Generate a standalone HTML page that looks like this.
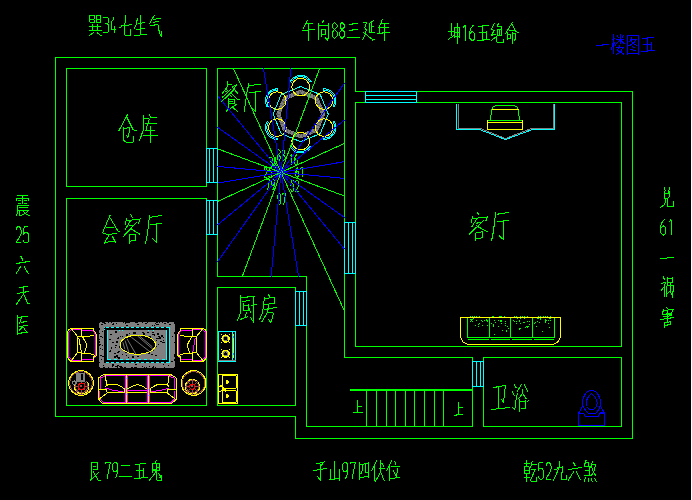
<!DOCTYPE html>
<html><head><meta charset="utf-8"><title>floor plan</title>
<style>
html,body{margin:0;padding:0;background:#000;overflow:hidden;font-family:"Liberation Sans",sans-serif}
svg{display:block}
</style></head><body>
<svg width="692" height="500" viewBox="0 0 692 500" shape-rendering="crispEdges" stroke-linecap="square" stroke-linejoin="miter">
<rect x="0" y="0" width="692" height="500" fill="#000"/>
<path d="M55.50 57.50 L355.50 57.50 L355.50 91.50 L632.50 91.50 L632.50 438.50 L295.50 438.50 L295.50 416.50 L55.50 416.50 Z" stroke="#00ff00" stroke-width="1" fill="none" />
<path d="M66.50 68.50 L206.50 68.50 L206.50 186.50 L66.50 186.50 Z" stroke="#00ff00" stroke-width="1" fill="none" />
<path d="M66.50 198.50 L206.50 198.50 L206.50 405.50 L66.50 405.50 Z" stroke="#00ff00" stroke-width="1" fill="none" />
<path d="M217.50 276.50 L217.50 68.50 L344.50 68.50 L344.50 357.50 L472.50 357.50 L472.50 426.50 L306.50 426.50 L306.50 276.50 L217.50 276.50" stroke="#00ff00" stroke-width="1" fill="none" />
<path d="M217.50 287.50 L295.50 287.50 L295.50 405.50 L217.50 405.50 Z" stroke="#00ff00" stroke-width="1" fill="none" />
<path d="M355.50 102.50 L621.50 102.50 L621.50 346.50 L355.50 346.50 Z" stroke="#00ff00" stroke-width="1" fill="none" />
<path d="M483.50 357.50 L621.50 357.50 L621.50 426.50 L483.50 426.50 Z" stroke="#00ff00" stroke-width="1" fill="none" />
<path d="M206.50 148.50 L217.50 148.50 L217.50 182.50 L206.50 182.50 Z" stroke="#00ffff" stroke-width="1" fill="none" />
<path d="M209.50 148.50 L209.50 182.50" stroke="#00ffff" stroke-width="1" fill="none" />
<path d="M213.50 148.50 L213.50 182.50" stroke="#00ffff" stroke-width="1" fill="none" />
<path d="M206.50 200.50 L217.50 200.50 L217.50 234.50 L206.50 234.50 Z" stroke="#00ffff" stroke-width="1" fill="none" />
<path d="M209.50 200.50 L209.50 234.50" stroke="#00ffff" stroke-width="1" fill="none" />
<path d="M213.50 200.50 L213.50 234.50" stroke="#00ffff" stroke-width="1" fill="none" />
<path d="M344.50 222.50 L355.50 222.50 L355.50 273.50 L344.50 273.50 Z" stroke="#00ffff" stroke-width="1" fill="none" />
<path d="M348.50 222.50 L348.50 273.50" stroke="#00ffff" stroke-width="1" fill="none" />
<path d="M352.50 222.50 L352.50 273.50" stroke="#00ffff" stroke-width="1" fill="none" />
<path d="M295.50 291.50 L306.50 291.50 L306.50 325.50 L295.50 325.50 Z" stroke="#00ffff" stroke-width="1" fill="none" />
<path d="M299.50 291.50 L299.50 325.50" stroke="#00ffff" stroke-width="1" fill="none" />
<path d="M303.50 291.50 L303.50 325.50" stroke="#00ffff" stroke-width="1" fill="none" />
<path d="M472.50 361.50 L483.50 361.50 L483.50 386.50 L472.50 386.50 Z" stroke="#00ffff" stroke-width="1" fill="none" />
<path d="M476.50 361.50 L476.50 386.50" stroke="#00ffff" stroke-width="1" fill="none" />
<path d="M480.50 361.50 L480.50 386.50" stroke="#00ffff" stroke-width="1" fill="none" />
<path d="M365.50 91.50 L416.50 91.50 L416.50 102.50 L365.50 102.50 Z" stroke="#00ffff" stroke-width="1" fill="none" />
<path d="M365.50 95.50 L416.50 95.50" stroke="#00ffff" stroke-width="1" fill="none" />
<path d="M365.50 99.50 L416.50 99.50" stroke="#00ffff" stroke-width="1" fill="none" />
<rect x="350" y="389" width="123" height="2" fill="#00ff00"/>
<path d="M366.50 390.50 L366.50 426.50" stroke="#00ff00" stroke-width="1" fill="none" />
<path d="M376.50 390.50 L376.50 426.50" stroke="#00ff00" stroke-width="1" fill="none" />
<path d="M386.50 390.50 L386.50 426.50" stroke="#00ff00" stroke-width="1" fill="none" />
<path d="M395.50 390.50 L395.50 426.50" stroke="#00ff00" stroke-width="1" fill="none" />
<path d="M405.50 390.50 L405.50 426.50" stroke="#00ff00" stroke-width="1" fill="none" />
<path d="M414.50 390.50 L414.50 426.50" stroke="#00ff00" stroke-width="1" fill="none" />
<path d="M424.50 390.50 L424.50 426.50" stroke="#00ff00" stroke-width="1" fill="none" />
<path d="M434.50 390.50 L434.50 426.50" stroke="#00ff00" stroke-width="1" fill="none" />
<path d="M443.50 390.50 L443.50 426.50" stroke="#00ff00" stroke-width="1" fill="none" />
<path d="M357.50 400.50 L357.50 412.50" stroke="#00ff00" stroke-width="1" fill="none" />
<path d="M357.50 406.50 L361.50 406.50" stroke="#00ff00" stroke-width="1" fill="none" />
<path d="M353.50 412.50 L362.50 412.50" stroke="#00ff00" stroke-width="1" fill="none" />
<path d="M458.50 402.50 L458.50 414.50" stroke="#00ff00" stroke-width="1" fill="none" />
<path d="M458.50 407.50 L462.50 407.50" stroke="#00ff00" stroke-width="1" fill="none" />
<path d="M454.50 415.50 L458.50 414.50 L462.50 414.50" stroke="#00ff00" stroke-width="1" fill="none" />
<rect x="691" y="0" width="1" height="500" fill="#ffffff"/>
<path d="M300.70 91.70 L316.54 98.26 L323.10 114.10 L316.54 129.94 L300.70 136.50 L284.86 129.94 L278.30 114.10 L284.86 98.26 Z" stroke="#808080" stroke-width="4" fill="none" stroke-linejoin="round"/>
<path d="M300.70 91.70 L316.54 98.26 L323.10 114.10 L316.54 129.94 L300.70 136.50 L284.86 129.94 L278.30 114.10 L284.86 98.26 Z" stroke="#585858" stroke-width="4" fill="none" stroke-dasharray="1 2.3" stroke-linecap="butt"/>
<path d="M300.70 86.50 L320.22 94.58 L328.30 114.10 L320.22 133.62 L300.70 141.70 L281.18 133.62 L273.10 114.10 L281.18 94.58 Z" stroke="#00ffff" stroke-width="1" fill="none" stroke-linejoin="bevel"/>
<circle cx="300.70" cy="87.10" r="8.80" stroke="#ffff00" stroke-width="1" fill="none" />
<path d="M290.69 80.85 L292.15 78.96 L293.97 77.41 L296.05 76.25 L298.33 75.54 L300.70 75.30 L303.07 75.54 L305.35 76.25 L307.43 77.41 L309.25 78.96 L310.71 80.85" stroke="#00ffff" stroke-width="1" fill="none" />
<path d="M292.00 81.23 L293.30 79.65 L294.89 78.35 L296.70 77.39 L298.66 76.80 L300.70 76.60 L302.74 76.80 L304.70 77.39 L306.51 78.35 L308.10 79.65 L309.40 81.23" stroke="#00ffff" stroke-width="1" fill="none" />
<path d="M290.69 80.85 L290.28 81.56 L291.43 82.17" stroke="#00ffff" stroke-width="1" fill="none" />
<path d="M310.71 80.85 L311.12 81.56 L309.97 82.17" stroke="#00ffff" stroke-width="1" fill="none" />
<circle cx="324.08" cy="100.60" r="8.80" stroke="#ffff00" stroke-width="1" fill="none" />
<path d="M324.49 88.81 L326.86 89.13 L329.11 89.92 L331.15 91.15 L332.91 92.77 L334.30 94.70 L335.28 96.88 L335.80 99.20 L335.84 101.59 L335.40 103.93 L334.50 106.14" stroke="#00ffff" stroke-width="1" fill="none" />
<path d="M324.82 90.13 L326.84 90.47 L328.75 91.20 L330.49 92.28 L331.98 93.68 L333.18 95.35 L334.02 97.22 L334.49 99.21 L334.56 101.26 L334.23 103.28 L333.52 105.20" stroke="#00ffff" stroke-width="1" fill="none" />
<path d="M324.49 88.81 L323.67 88.81 L323.72 90.11" stroke="#00ffff" stroke-width="1" fill="none" />
<path d="M334.50 106.14 L334.09 106.85 L332.99 106.16" stroke="#00ffff" stroke-width="1" fill="none" />
<circle cx="324.08" cy="127.60" r="8.80" stroke="#ffff00" stroke-width="1" fill="none" />
<path d="M334.50 122.06 L335.40 124.27 L335.84 126.61 L335.80 129.00 L335.28 131.32 L334.30 133.50 L332.91 135.43 L331.15 137.05 L329.11 138.28 L326.86 139.07 L324.49 139.39" stroke="#00ffff" stroke-width="1" fill="none" />
<path d="M333.52 123.00 L334.23 124.92 L334.56 126.94 L334.49 128.99 L334.02 130.98 L333.18 132.85 L331.98 134.52 L330.49 135.92 L328.75 137.00 L326.84 137.73 L324.82 138.07" stroke="#00ffff" stroke-width="1" fill="none" />
<path d="M334.50 122.06 L334.09 121.35 L332.99 122.04" stroke="#00ffff" stroke-width="1" fill="none" />
<path d="M324.49 139.39 L323.67 139.39 L323.72 138.09" stroke="#00ffff" stroke-width="1" fill="none" />
<circle cx="300.70" cy="141.10" r="8.80" stroke="#ffff00" stroke-width="1" fill="none" />
<path d="M310.71 147.35 L309.25 149.24 L307.43 150.79 L305.35 151.95 L303.07 152.66 L300.70 152.90 L298.33 152.66 L296.05 151.95 L293.97 150.79 L292.15 149.24 L290.69 147.35" stroke="#00ffff" stroke-width="1" fill="none" />
<path d="M309.40 146.97 L308.10 148.55 L306.51 149.85 L304.70 150.81 L302.74 151.40 L300.70 151.60 L298.66 151.40 L296.70 150.81 L294.89 149.85 L293.30 148.55 L292.00 146.97" stroke="#00ffff" stroke-width="1" fill="none" />
<path d="M310.71 147.35 L311.12 146.64 L309.97 146.03" stroke="#00ffff" stroke-width="1" fill="none" />
<path d="M290.69 147.35 L290.28 146.64 L291.43 146.03" stroke="#00ffff" stroke-width="1" fill="none" />
<circle cx="277.32" cy="127.60" r="8.80" stroke="#ffff00" stroke-width="1" fill="none" />
<path d="M276.91 139.39 L274.54 139.07 L272.29 138.28 L270.25 137.05 L268.49 135.43 L267.10 133.50 L266.12 131.32 L265.60 129.00 L265.56 126.61 L266.00 124.27 L266.90 122.06" stroke="#00ffff" stroke-width="1" fill="none" />
<path d="M276.58 138.07 L274.56 137.73 L272.65 137.00 L270.91 135.92 L269.42 134.52 L268.22 132.85 L267.38 130.98 L266.91 128.99 L266.84 126.94 L267.17 124.92 L267.88 123.00" stroke="#00ffff" stroke-width="1" fill="none" />
<path d="M276.91 139.39 L277.73 139.39 L277.68 138.09" stroke="#00ffff" stroke-width="1" fill="none" />
<path d="M266.90 122.06 L267.31 121.35 L268.41 122.04" stroke="#00ffff" stroke-width="1" fill="none" />
<circle cx="277.32" cy="100.60" r="8.80" stroke="#ffff00" stroke-width="1" fill="none" />
<path d="M266.90 106.14 L266.00 103.93 L265.56 101.59 L265.60 99.20 L266.12 96.88 L267.10 94.70 L268.49 92.77 L270.25 91.15 L272.29 89.92 L274.54 89.13 L276.91 88.81" stroke="#00ffff" stroke-width="1" fill="none" />
<path d="M267.88 105.20 L267.17 103.28 L266.84 101.26 L266.91 99.21 L267.38 97.22 L268.22 95.35 L269.42 93.68 L270.91 92.28 L272.65 91.20 L274.56 90.47 L276.58 90.13" stroke="#00ffff" stroke-width="1" fill="none" />
<path d="M266.90 106.14 L267.31 106.85 L268.41 106.16" stroke="#00ffff" stroke-width="1" fill="none" />
<path d="M276.91 88.81 L277.73 88.81 L277.68 90.11" stroke="#00ffff" stroke-width="1" fill="none" />
<path d="M458.50 104.50 L458.50 128.50 L480.50 128.50 L505.50 138.50 L531.50 128.50 L553.50 128.50 L553.50 104.50" stroke="#808080" stroke-width="1" fill="none" />
<path d="M456.50 104.50 L456.50 129.50 L479.50 129.50 L505.50 139.50 L532.50 129.50 L554.50 129.50 L554.50 104.50" stroke="#00ffff" stroke-width="1" fill="none" />
<path d="M487.50 120.50 L522.50 120.50 L522.50 129.50 L487.50 129.50 Z" stroke="#ffff00" stroke-width="1" fill="none" />
<path d="M487.50 122.50 L522.50 122.50" stroke="#ffff00" stroke-width="1" fill="none" />
<path d="M490.50 120.50 L491.50 110.50 L492.50 107.50 L495.50 105.50 L514.50 105.50 L517.50 107.50 L518.50 110.50 L519.50 120.50" stroke="#00ff00" stroke-width="1" fill="none" />
<path d="M488.50 120.50 L521.50 120.50" stroke="#00ff00" stroke-width="1" fill="none" />
<path d="M492.50 109.50 L518.50 109.50" stroke="#ffff00" stroke-width="1" fill="none" />
<path d="M467.50 317.50 L554.50 317.50" stroke="#00ff00" stroke-width="1" fill="none" />
<path d="M467.50 317.50 L467.50 337.50" stroke="#00ff00" stroke-width="1" fill="none" />
<path d="M489.50 317.50 L489.50 337.50" stroke="#00ff00" stroke-width="1" fill="none" />
<path d="M510.50 317.50 L510.50 337.50" stroke="#00ff00" stroke-width="1" fill="none" />
<path d="M532.50 317.50 L532.50 337.50" stroke="#00ff00" stroke-width="1" fill="none" />
<path d="M554.50 317.50 L554.50 337.50" stroke="#00ff00" stroke-width="1" fill="none" />
<path d="M467.50 337.50 L554.50 337.50" stroke="#00ff00" stroke-width="1" fill="none" />
<path d="M468.50 339.50 L488.50 339.50" stroke="#00ff00" stroke-width="1" fill="none" />
<path d="M491.50 339.50 L509.50 339.50" stroke="#00ff00" stroke-width="1" fill="none" />
<path d="M512.50 339.50 L531.50 339.50" stroke="#00ff00" stroke-width="1" fill="none" />
<path d="M534.50 339.50 L553.50 339.50" stroke="#00ff00" stroke-width="1" fill="none" />
<rect x="479" y="323" width="1" height="1" fill="#00ff00"/>
<rect x="470" y="319" width="1" height="1" fill="#00ff00"/>
<rect x="471" y="319" width="1" height="1" fill="#00ff00"/>
<rect x="487" y="320" width="1" height="1" fill="#00ff00"/>
<rect x="470" y="321" width="1" height="1" fill="#00ff00"/>
<rect x="471" y="320" width="1" height="1" fill="#00ff00"/>
<rect x="482" y="321" width="1" height="1" fill="#00ff00"/>
<rect x="486" y="320" width="1" height="1" fill="#00ff00"/>
<rect x="482" y="325" width="1" height="1" fill="#00ff00"/>
<rect x="476" y="320" width="1" height="1" fill="#00ff00"/>
<rect x="487" y="325" width="1" height="1" fill="#00ff00"/>
<rect x="481" y="320" width="1" height="1" fill="#00ff00"/>
<rect x="470" y="319" width="1" height="1" fill="#00ff00"/>
<rect x="473" y="318" width="1" height="1" fill="#00ff00"/>
<rect x="478" y="324" width="1" height="1" fill="#00ff00"/>
<rect x="487" y="321" width="1" height="1" fill="#00ff00"/>
<rect x="478" y="326" width="1" height="1" fill="#00ff00"/>
<rect x="472" y="321" width="1" height="1" fill="#00ff00"/>
<rect x="487" y="321" width="1" height="1" fill="#00ff00"/>
<rect x="472" y="319" width="1" height="1" fill="#00ff00"/>
<rect x="486" y="319" width="1" height="1" fill="#00ff00"/>
<rect x="475" y="325" width="1" height="1" fill="#00ff00"/>
<rect x="484" y="320" width="1" height="1" fill="#00ff00"/>
<rect x="479" y="323" width="1" height="1" fill="#00ff00"/>
<rect x="505" y="323" width="1" height="1" fill="#00ff00"/>
<rect x="500" y="321" width="1" height="1" fill="#00ff00"/>
<rect x="498" y="320" width="1" height="1" fill="#00ff00"/>
<rect x="498" y="326" width="1" height="1" fill="#00ff00"/>
<rect x="493" y="324" width="1" height="1" fill="#00ff00"/>
<rect x="501" y="321" width="1" height="1" fill="#00ff00"/>
<rect x="505" y="321" width="1" height="1" fill="#00ff00"/>
<rect x="494" y="334" width="1" height="1" fill="#00ff00"/>
<rect x="507" y="326" width="1" height="1" fill="#00ff00"/>
<rect x="495" y="322" width="1" height="1" fill="#00ff00"/>
<rect x="506" y="331" width="1" height="1" fill="#00ff00"/>
<rect x="493" y="325" width="1" height="1" fill="#00ff00"/>
<rect x="508" y="328" width="1" height="1" fill="#00ff00"/>
<rect x="501" y="323" width="1" height="1" fill="#00ff00"/>
<rect x="501" y="320" width="1" height="1" fill="#00ff00"/>
<rect x="505" y="325" width="1" height="1" fill="#00ff00"/>
<rect x="493" y="325" width="1" height="1" fill="#00ff00"/>
<rect x="506" y="330" width="1" height="1" fill="#00ff00"/>
<rect x="493" y="326" width="1" height="1" fill="#00ff00"/>
<rect x="505" y="321" width="1" height="1" fill="#00ff00"/>
<rect x="500" y="320" width="1" height="1" fill="#00ff00"/>
<rect x="502" y="330" width="1" height="1" fill="#00ff00"/>
<rect x="491" y="323" width="1" height="1" fill="#00ff00"/>
<rect x="494" y="320" width="1" height="1" fill="#00ff00"/>
<rect x="527" y="327" width="1" height="1" fill="#00ff00"/>
<rect x="516" y="321" width="1" height="1" fill="#00ff00"/>
<rect x="519" y="328" width="1" height="1" fill="#00ff00"/>
<rect x="527" y="326" width="1" height="1" fill="#00ff00"/>
<rect x="514" y="321" width="1" height="1" fill="#00ff00"/>
<rect x="520" y="323" width="1" height="1" fill="#00ff00"/>
<rect x="516" y="323" width="1" height="1" fill="#00ff00"/>
<rect x="520" y="328" width="1" height="1" fill="#00ff00"/>
<rect x="525" y="327" width="1" height="1" fill="#00ff00"/>
<rect x="524" y="318" width="1" height="1" fill="#00ff00"/>
<rect x="519" y="320" width="1" height="1" fill="#00ff00"/>
<rect x="519" y="321" width="1" height="1" fill="#00ff00"/>
<rect x="519" y="329" width="1" height="1" fill="#00ff00"/>
<rect x="517" y="318" width="1" height="1" fill="#00ff00"/>
<rect x="520" y="318" width="1" height="1" fill="#00ff00"/>
<rect x="529" y="321" width="1" height="1" fill="#00ff00"/>
<rect x="523" y="322" width="1" height="1" fill="#00ff00"/>
<rect x="516" y="321" width="1" height="1" fill="#00ff00"/>
<rect x="528" y="326" width="1" height="1" fill="#00ff00"/>
<rect x="513" y="320" width="1" height="1" fill="#00ff00"/>
<rect x="526" y="326" width="1" height="1" fill="#00ff00"/>
<rect x="529" y="324" width="1" height="1" fill="#00ff00"/>
<rect x="524" y="322" width="1" height="1" fill="#00ff00"/>
<rect x="527" y="321" width="1" height="1" fill="#00ff00"/>
<rect x="546" y="320" width="1" height="1" fill="#00ff00"/>
<rect x="540" y="318" width="1" height="1" fill="#00ff00"/>
<rect x="548" y="320" width="1" height="1" fill="#00ff00"/>
<rect x="535" y="322" width="1" height="1" fill="#00ff00"/>
<rect x="537" y="321" width="1" height="1" fill="#00ff00"/>
<rect x="537" y="318" width="1" height="1" fill="#00ff00"/>
<rect x="545" y="319" width="1" height="1" fill="#00ff00"/>
<rect x="540" y="319" width="1" height="1" fill="#00ff00"/>
<rect x="546" y="320" width="1" height="1" fill="#00ff00"/>
<rect x="545" y="321" width="1" height="1" fill="#00ff00"/>
<rect x="545" y="320" width="1" height="1" fill="#00ff00"/>
<rect x="549" y="318" width="1" height="1" fill="#00ff00"/>
<rect x="548" y="323" width="1" height="1" fill="#00ff00"/>
<rect x="538" y="318" width="1" height="1" fill="#00ff00"/>
<rect x="537" y="318" width="1" height="1" fill="#00ff00"/>
<rect x="549" y="327" width="1" height="1" fill="#00ff00"/>
<rect x="539" y="322" width="1" height="1" fill="#00ff00"/>
<rect x="550" y="318" width="1" height="1" fill="#00ff00"/>
<rect x="545" y="322" width="1" height="1" fill="#00ff00"/>
<rect x="534" y="323" width="1" height="1" fill="#00ff00"/>
<rect x="550" y="320" width="1" height="1" fill="#00ff00"/>
<rect x="536" y="326" width="1" height="1" fill="#00ff00"/>
<rect x="542" y="331" width="1" height="1" fill="#00ff00"/>
<rect x="545" y="319" width="1" height="1" fill="#00ff00"/>
<rect x="470" y="316" width="1" height="1" fill="#00ff00"/>
<rect x="472" y="316" width="1" height="1" fill="#00ff00"/>
<rect x="474" y="316" width="1" height="1" fill="#00ff00"/>
<rect x="476" y="316" width="1" height="1" fill="#00ff00"/>
<rect x="479" y="316" width="1" height="1" fill="#00ff00"/>
<rect x="492" y="316" width="1" height="1" fill="#00ff00"/>
<rect x="493" y="316" width="1" height="1" fill="#00ff00"/>
<rect x="499" y="316" width="1" height="1" fill="#00ff00"/>
<rect x="500" y="316" width="1" height="1" fill="#00ff00"/>
<rect x="501" y="316" width="1" height="1" fill="#00ff00"/>
<rect x="504" y="316" width="1" height="1" fill="#00ff00"/>
<rect x="514" y="316" width="1" height="1" fill="#00ff00"/>
<rect x="516" y="316" width="1" height="1" fill="#00ff00"/>
<rect x="520" y="316" width="1" height="1" fill="#00ff00"/>
<rect x="522" y="316" width="1" height="1" fill="#00ff00"/>
<rect x="524" y="316" width="1" height="1" fill="#00ff00"/>
<rect x="527" y="316" width="1" height="1" fill="#00ff00"/>
<rect x="538" y="316" width="1" height="1" fill="#00ff00"/>
<rect x="540" y="316" width="1" height="1" fill="#00ff00"/>
<rect x="543" y="316" width="1" height="1" fill="#00ff00"/>
<rect x="545" y="316" width="1" height="1" fill="#00ff00"/>
<rect x="547" y="316" width="1" height="1" fill="#00ff00"/>
<rect x="550" y="316" width="1" height="1" fill="#00ff00"/>
<path d="M460.5 317.5 L560.5 317.5 L560.5 335.5 A9 9 0 0 1 551.5 344.5 L469.5 344.5 A9 9 0 0 1 460.5 335.5 Z" stroke="#ffff00" fill="none"/>
<path d="M578.50 413.50 L583.50 413.50 L585.50 416.50 L598.50 416.50 L599.50 413.50 L604.50 413.50 L604.50 425.50 L578.50 425.50 Z" stroke="#0000ff" stroke-width="1" fill="none" />
<path d="M600.50 412.50 L603.50 412.50" stroke="#0000ff" stroke-width="1" fill="none" />
<path d="M591.5 390.5 C586 390.5 582.5 397 582.5 403 C582.5 408 586 411 588.5 413.5 L595.5 413.5 C598 411 600.5 408 600.5 403 C600.5 397 597 390.5 591.5 390.5 Z" stroke="#0000ff" fill="none"/>
<path d="M591.5 393.5 C588.5 396 586.3 399.5 586.3 403 C586.3 407 588.5 409.6 591.5 409.6 C594.5 409.6 597.2 407 597.2 403 C597.2 399.5 594.5 396 591.5 393.5 Z" stroke="#0000ff" fill="none"/>
<path d="M582.80 405.50 L578.50 413.50" stroke="#0000ff" stroke-width="1" fill="none" />
<path d="M600.40 405.50 L604.50 413.50" stroke="#0000ff" stroke-width="1" fill="none" />
<rect x="99" y="322" width="76" height="46" fill="#808080"/>
<rect x="104" y="327" width="66" height="36" fill="#000"/>
<rect x="107" y="330" width="60" height="30" fill="#808080"/>
<rect x="102" y="322" width="2" height="1" fill="#000"/>
<rect x="103" y="367" width="2" height="1" fill="#000"/>
<rect x="104" y="322" width="1" height="1" fill="#000"/>
<rect x="108" y="322" width="1" height="1" fill="#000"/>
<rect x="108" y="367" width="1" height="1" fill="#000"/>
<rect x="111" y="322" width="1" height="1" fill="#000"/>
<rect x="117" y="367" width="1" height="1" fill="#000"/>
<rect x="120" y="367" width="1" height="1" fill="#000"/>
<rect x="121" y="367" width="2" height="1" fill="#000"/>
<rect x="123" y="322" width="1" height="1" fill="#000"/>
<rect x="124" y="367" width="2" height="1" fill="#000"/>
<rect x="125" y="322" width="2" height="1" fill="#000"/>
<rect x="126" y="322" width="1" height="1" fill="#000"/>
<rect x="127" y="322" width="2" height="1" fill="#000"/>
<rect x="128" y="322" width="1" height="1" fill="#000"/>
<rect x="129" y="322" width="1" height="1" fill="#000"/>
<rect x="131" y="367" width="2" height="1" fill="#000"/>
<rect x="132" y="367" width="1" height="1" fill="#000"/>
<rect x="134" y="367" width="1" height="1" fill="#000"/>
<rect x="135" y="322" width="2" height="1" fill="#000"/>
<rect x="135" y="367" width="2" height="1" fill="#000"/>
<rect x="137" y="322" width="1" height="1" fill="#000"/>
<rect x="142" y="322" width="1" height="1" fill="#000"/>
<rect x="144" y="367" width="1" height="1" fill="#000"/>
<rect x="146" y="367" width="1" height="1" fill="#000"/>
<rect x="147" y="322" width="1" height="1" fill="#000"/>
<rect x="152" y="367" width="2" height="1" fill="#000"/>
<rect x="155" y="367" width="1" height="1" fill="#000"/>
<rect x="156" y="322" width="2" height="1" fill="#000"/>
<rect x="157" y="322" width="1" height="1" fill="#000"/>
<rect x="159" y="322" width="1" height="1" fill="#000"/>
<rect x="162" y="322" width="1" height="1" fill="#000"/>
<rect x="164" y="367" width="1" height="1" fill="#000"/>
<rect x="167" y="322" width="2" height="1" fill="#000"/>
<rect x="174" y="323" width="1" height="1" fill="#000"/>
<rect x="99" y="328" width="1" height="1" fill="#000"/>
<rect x="99" y="329" width="1" height="1" fill="#000"/>
<rect x="174" y="332" width="1" height="2" fill="#000"/>
<rect x="99" y="333" width="1" height="1" fill="#000"/>
<rect x="99" y="339" width="1" height="1" fill="#000"/>
<rect x="99" y="341" width="1" height="2" fill="#000"/>
<rect x="174" y="342" width="1" height="1" fill="#000"/>
<rect x="99" y="344" width="1" height="2" fill="#000"/>
<rect x="174" y="354" width="1" height="2" fill="#000"/>
<rect x="174" y="355" width="1" height="1" fill="#000"/>
<rect x="174" y="356" width="1" height="1" fill="#000"/>
<rect x="174" y="359" width="1" height="2" fill="#000"/>
<rect x="99" y="362" width="1" height="1" fill="#000"/>
<rect x="99" y="367" width="1" height="2" fill="#000"/>
<rect x="174" y="367" width="1" height="2" fill="#000"/>
<rect x="99" y="322" width="1" height="1" fill="#000"/>
<rect x="174" y="322" width="1" height="1" fill="#000"/>
<rect x="99" y="367" width="1" height="1" fill="#000"/>
<rect x="174" y="367" width="1" height="1" fill="#000"/>
<rect x="101" y="324" width="2" height="1" fill="#000"/>
<rect x="142" y="366" width="1" height="1" fill="#000"/>
<rect x="116" y="323" width="1" height="1" fill="#000"/>
<rect x="112" y="365" width="2" height="1" fill="#000"/>
<rect x="103" y="365" width="1" height="1" fill="#000"/>
<rect x="157" y="324" width="2" height="1" fill="#000"/>
<rect x="163" y="364" width="1" height="1" fill="#000"/>
<rect x="155" y="323" width="1" height="1" fill="#000"/>
<rect x="102" y="345" width="1" height="1" fill="#000"/>
<rect x="120" y="366" width="2" height="1" fill="#000"/>
<rect x="112" y="364" width="2" height="1" fill="#000"/>
<rect x="101" y="359" width="1" height="1" fill="#000"/>
<rect x="102" y="356" width="2" height="1" fill="#000"/>
<rect x="149" y="366" width="1" height="1" fill="#000"/>
<rect x="119" y="366" width="2" height="1" fill="#000"/>
<rect x="100" y="355" width="2" height="1" fill="#000"/>
<rect x="102" y="331" width="1" height="1" fill="#000"/>
<rect x="100" y="348" width="1" height="1" fill="#000"/>
<rect x="102" y="349" width="1" height="1" fill="#000"/>
<rect x="112" y="366" width="1" height="1" fill="#000"/>
<rect x="169" y="324" width="2" height="1" fill="#000"/>
<rect x="135" y="364" width="2" height="1" fill="#000"/>
<rect x="117" y="365" width="2" height="1" fill="#000"/>
<rect x="168" y="365" width="1" height="1" fill="#000"/>
<rect x="154" y="325" width="1" height="1" fill="#000"/>
<rect x="117" y="366" width="1" height="1" fill="#000"/>
<rect x="125" y="323" width="1" height="1" fill="#000"/>
<rect x="137" y="324" width="2" height="1" fill="#000"/>
<rect x="164" y="323" width="2" height="1" fill="#000"/>
<rect x="171" y="361" width="2" height="1" fill="#000"/>
<rect x="172" y="336" width="1" height="1" fill="#000"/>
<rect x="153" y="366" width="1" height="1" fill="#000"/>
<rect x="102" y="337" width="1" height="1" fill="#000"/>
<rect x="102" y="337" width="1" height="1" fill="#000"/>
<rect x="145" y="323" width="2" height="1" fill="#000"/>
<rect x="100" y="344" width="1" height="1" fill="#000"/>
<rect x="113" y="323" width="1" height="1" fill="#000"/>
<rect x="112" y="324" width="2" height="1" fill="#000"/>
<rect x="156" y="324" width="1" height="1" fill="#000"/>
<rect x="152" y="325" width="1" height="1" fill="#000"/>
<rect x="126" y="325" width="2" height="1" fill="#000"/>
<rect x="115" y="366" width="2" height="1" fill="#000"/>
<rect x="100" y="336" width="2" height="1" fill="#000"/>
<rect x="104" y="323" width="2" height="1" fill="#000"/>
<rect x="118" y="337" width="1" height="1" fill="#000"/>
<rect x="122" y="336" width="1" height="1" fill="#000"/>
<rect x="152" y="334" width="2" height="1" fill="#000"/>
<rect x="117" y="352" width="2" height="1" fill="#000"/>
<rect x="157" y="334" width="2" height="1" fill="#000"/>
<rect x="138" y="344" width="2" height="1" fill="#000"/>
<rect x="136" y="337" width="2" height="1" fill="#000"/>
<rect x="109" y="351" width="2" height="1" fill="#000"/>
<rect x="163" y="337" width="1" height="1" fill="#000"/>
<rect x="138" y="342" width="2" height="1" fill="#000"/>
<rect x="134" y="337" width="2" height="1" fill="#000"/>
<rect x="115" y="347" width="1" height="1" fill="#000"/>
<rect x="114" y="356" width="2" height="2" fill="#000"/>
<rect x="134" y="349" width="2" height="1" fill="#000"/>
<rect x="141" y="349" width="2" height="1" fill="#000"/>
<rect x="126" y="334" width="2" height="2" fill="#000"/>
<rect x="158" y="336" width="2" height="1" fill="#000"/>
<rect x="130" y="348" width="2" height="1" fill="#000"/>
<rect x="158" y="344" width="1" height="1" fill="#000"/>
<rect x="122" y="354" width="1" height="1" fill="#000"/>
<rect x="160" y="341" width="2" height="1" fill="#000"/>
<rect x="115" y="331" width="2" height="2" fill="#000"/>
<rect x="148" y="332" width="1" height="1" fill="#000"/>
<rect x="151" y="340" width="2" height="1" fill="#000"/>
<rect x="151" y="343" width="2" height="1" fill="#000"/>
<rect x="143" y="333" width="2" height="2" fill="#000"/>
<rect x="140" y="351" width="1" height="2" fill="#000"/>
<rect x="116" y="355" width="2" height="2" fill="#000"/>
<rect x="110" y="334" width="2" height="1" fill="#000"/>
<rect x="156" y="338" width="2" height="1" fill="#000"/>
<rect x="134" y="347" width="1" height="1" fill="#000"/>
<rect x="150" y="343" width="1" height="1" fill="#000"/>
<rect x="125" y="339" width="2" height="1" fill="#000"/>
<rect x="144" y="348" width="2" height="1" fill="#000"/>
<rect x="142" y="349" width="1" height="2" fill="#000"/>
<rect x="137" y="356" width="2" height="1" fill="#000"/>
<rect x="144" y="350" width="2" height="1" fill="#000"/>
<rect x="133" y="336" width="2" height="1" fill="#000"/>
<rect x="119" y="346" width="2" height="2" fill="#000"/>
<rect x="147" y="332" width="2" height="1" fill="#000"/>
<rect x="135" y="340" width="2" height="1" fill="#000"/>
<rect x="147" y="340" width="2" height="2" fill="#000"/>
<rect x="127" y="346" width="2" height="1" fill="#000"/>
<rect x="144" y="340" width="2" height="2" fill="#000"/>
<rect x="156" y="340" width="1" height="1" fill="#000"/>
<rect x="158" y="338" width="2" height="1" fill="#000"/>
<rect x="149" y="336" width="2" height="2" fill="#000"/>
<rect x="133" y="332" width="2" height="2" fill="#000"/>
<rect x="134" y="332" width="2" height="2" fill="#000"/>
<rect x="129" y="333" width="1" height="1" fill="#000"/>
<rect x="155" y="346" width="2" height="1" fill="#000"/>
<rect x="111" y="347" width="1" height="2" fill="#000"/>
<rect x="138" y="335" width="1" height="2" fill="#000"/>
<rect x="154" y="334" width="1" height="2" fill="#000"/>
<rect x="135" y="345" width="1" height="1" fill="#000"/>
<rect x="112" y="342" width="2" height="1" fill="#000"/>
<rect x="116" y="342" width="2" height="1" fill="#000"/>
<rect x="151" y="344" width="2" height="2" fill="#000"/>
<rect x="125" y="351" width="2" height="2" fill="#000"/>
<rect x="135" y="342" width="2" height="2" fill="#000"/>
<rect x="161" y="335" width="2" height="2" fill="#000"/>
<rect x="117" y="338" width="2" height="1" fill="#000"/>
<rect x="141" y="340" width="2" height="2" fill="#000"/>
<rect x="163" y="342" width="2" height="1" fill="#000"/>
<rect x="148" y="352" width="2" height="2" fill="#000"/>
<rect x="153" y="349" width="1" height="2" fill="#000"/>
<rect x="126" y="355" width="1" height="1" fill="#000"/>
<rect x="124" y="347" width="2" height="1" fill="#000"/>
<rect x="152" y="332" width="2" height="1" fill="#000"/>
<rect x="109" y="339" width="2" height="1" fill="#000"/>
<rect x="110" y="350" width="1" height="1" fill="#000"/>
<rect x="123" y="348" width="2" height="1" fill="#000"/>
<rect x="157" y="333" width="2" height="1" fill="#000"/>
<rect x="144" y="338" width="2" height="1" fill="#000"/>
<rect x="139" y="346" width="2" height="1" fill="#000"/>
<rect x="130" y="341" width="2" height="2" fill="#000"/>
<rect x="117" y="357" width="1" height="1" fill="#000"/>
<rect x="137" y="356" width="2" height="1" fill="#000"/>
<rect x="137" y="344" width="2" height="1" fill="#000"/>
<rect x="133" y="356" width="1" height="1" fill="#000"/>
<rect x="118" y="351" width="2" height="1" fill="#000"/>
<rect x="127" y="348" width="2" height="1" fill="#000"/>
<rect x="136" y="351" width="2" height="2" fill="#000"/>
<rect x="115" y="345" width="2" height="1" fill="#000"/>
<rect x="143" y="333" width="2" height="2" fill="#000"/>
<rect x="145" y="346" width="2" height="1" fill="#000"/>
<rect x="128" y="357" width="1" height="1" fill="#000"/>
<rect x="128" y="337" width="2" height="2" fill="#000"/>
<rect x="114" y="353" width="2" height="1" fill="#000"/>
<rect x="155" y="355" width="2" height="1" fill="#000"/>
<rect x="127" y="335" width="1" height="1" fill="#000"/>
<rect x="151" y="354" width="2" height="1" fill="#000"/>
<rect x="116" y="341" width="2" height="1" fill="#000"/>
<rect x="145" y="350" width="2" height="1" fill="#000"/>
<rect x="137" y="347" width="2" height="1" fill="#000"/>
<rect x="129" y="338" width="2" height="2" fill="#000"/>
<rect x="142" y="338" width="1" height="1" fill="#000"/>
<rect x="162" y="342" width="1" height="1" fill="#000"/>
<rect x="152" y="343" width="2" height="1" fill="#000"/>
<rect x="159" y="337" width="2" height="2" fill="#000"/>
<rect x="132" y="356" width="2" height="2" fill="#000"/>
<rect x="118" y="357" width="2" height="2" fill="#000"/>
<rect x="120" y="336" width="1" height="1" fill="#000"/>
<rect x="163" y="340" width="1" height="1" fill="#000"/>
<rect x="142" y="332" width="2" height="1" fill="#000"/>
<path d="M105.50 327.50 L169.50 327.50" stroke="#00ffff" stroke-width="1" fill="none" stroke-dasharray="3 2" stroke-linecap="butt"/>
<path d="M105.50 362.50 L169.50 362.50" stroke="#00ffff" stroke-width="1" fill="none" stroke-dasharray="3 2" stroke-linecap="butt"/>
<path d="M169.50 327.50 L169.50 362.50" stroke="#00ffff" stroke-width="1" fill="none" />
<rect x="104" y="327" width="1" height="1" fill="#00ffff"/><rect x="104" y="329" width="1" height="1" fill="#00ffff"/>
<path d="M107.50 359.50 L107.50 330.50" stroke="#00ffff" stroke-width="1" fill="none" />
<path d="M166.50 330.50 L166.50 359.50" stroke="#00ffff" stroke-width="1" fill="none" />
<path d="M107.50 359.50 L166.50 359.50" stroke="#00ffff" stroke-width="1" fill="none" stroke-dasharray="3 3" stroke-linecap="butt"/>
<rect x="119" y="330" width="1" height="1" fill="#00ffff"/>
<rect x="122" y="330" width="1" height="1" fill="#00ffff"/>
<rect x="148" y="330" width="1" height="1" fill="#00ffff"/>
<rect x="153" y="330" width="1" height="1" fill="#00ffff"/>
<ellipse cx="137.8" cy="344.7" rx="17.7" ry="9.5" fill="#000" stroke="#ffff00"/>
<path d="M123.00 342.70 L124.70 348.80" stroke="#909090" stroke-width="0.8" fill="none" />
<path d="M125.20 341.00 L128.60 351.40" stroke="#909090" stroke-width="0.8" fill="none" />
<path d="M127.30 339.30 L135.60 353.60" stroke="#909090" stroke-width="0.8" fill="none" />
<path d="M131.70 337.50 L149.00 351.00" stroke="#909090" stroke-width="0.8" fill="none" />
<path d="M137.80 336.20 L153.40 349.70" stroke="#909090" stroke-width="0.8" fill="none" />
<path d="M139.80 336.20 L152.00 346.50" stroke="#909090" stroke-width="0.8" fill="none" />
<path d="M68.50 356.90 L68.50 332.20 L71.70 329.50 L81.20 329.50" stroke="#ff00ff" stroke-width="1" fill="none" />
<path d="M82.10 330.50 L92.90 330.50 L95.50 334.40 L95.50 355.10 L92.90 359.50 L82.10 359.50" stroke="#ff00ff" stroke-width="1" fill="none" />
<path d="M68.50 356.90 L72.60 360.50 L81.20 360.50" stroke="#ff00ff" stroke-width="1" fill="none" />
<path d="M71.30 328.50 L93.80 328.50 L93.80 330.40 L96.50 334.40 L96.50 355.60 L93.80 356.90 L93.80 361.50 L71.30 361.50 L69.00 359.60 L67.50 356.90 L67.50 331.70 L69.00 329.50 Z" stroke="#ffff00" stroke-width="1" fill="none" />
<path d="M71.30 328.60 L77.60 336.50 L77.60 352.50 L71.70 360.10" stroke="#ffff00" stroke-width="1" fill="none" />
<path d="M77.60 336.50 L87.90 336.50 L93.80 335.00" stroke="#ffff00" stroke-width="1" fill="none" />
<path d="M77.60 352.50 L81.50 352.50" stroke="#ffff00" stroke-width="1" fill="none" />
<path d="M81.50 328.50 L81.50 336.50" stroke="#ffff00" stroke-width="1" fill="none" />
<path d="M81.50 353.50 L81.50 361.50" stroke="#ffff00" stroke-width="1" fill="none" />
<path d="M81.50 353.50 L89.70 353.50 L94.70 355.10" stroke="#ffff00" stroke-width="1" fill="none" />
<path d="M78.90 338.00 L81.20 351.50" stroke="#ffff00" stroke-width="1" fill="none" />
<path d="M83.00 337.60 L86.10 343.40 L86.60 346.10 L85.20 350.60 L83.90 353.30" stroke="#ffff00" stroke-width="1" fill="none" />
<path d="M205.60 356.90 L205.60 332.20 L202.40 329.50 L192.90 329.50" stroke="#ff00ff" stroke-width="1" fill="none" />
<path d="M192.00 330.50 L181.20 330.50 L178.60 334.40 L178.60 355.10 L181.20 359.50 L192.00 359.50" stroke="#ff00ff" stroke-width="1" fill="none" />
<path d="M205.60 356.90 L201.50 360.50 L192.90 360.50" stroke="#ff00ff" stroke-width="1" fill="none" />
<path d="M202.80 328.50 L180.30 328.50 L180.30 330.40 L177.60 334.40 L177.60 355.60 L180.30 356.90 L180.30 361.50 L202.80 361.50 L205.10 359.60 L206.60 356.90 L206.60 331.70 L205.10 329.50 Z" stroke="#ffff00" stroke-width="1" fill="none" />
<path d="M202.80 328.60 L196.50 336.50 L196.50 352.50 L202.40 360.10" stroke="#ffff00" stroke-width="1" fill="none" />
<path d="M196.50 336.50 L186.20 336.50 L180.30 335.00" stroke="#ffff00" stroke-width="1" fill="none" />
<path d="M196.50 352.50 L192.60 352.50" stroke="#ffff00" stroke-width="1" fill="none" />
<path d="M192.60 328.50 L192.60 336.50" stroke="#ffff00" stroke-width="1" fill="none" />
<path d="M192.60 353.50 L192.60 361.50" stroke="#ffff00" stroke-width="1" fill="none" />
<path d="M192.60 353.50 L184.40 353.50 L179.40 355.10" stroke="#ffff00" stroke-width="1" fill="none" />
<path d="M195.20 338.00 L192.90 351.50" stroke="#ff00ff" stroke-width="1" fill="none" />
<path d="M191.10 337.60 L188.00 343.40 L187.50 346.10 L188.90 350.60 L190.20 353.30" stroke="#ffff00" stroke-width="1" fill="none" />
<path d="M104.50 375.70 L170.00 375.70" stroke="#ff00ff" stroke-width="1" fill="none" />
<path d="M103.50 402.30 L171.00 402.30" stroke="#ff00ff" stroke-width="1" fill="none" />
<path d="M100.20 378.00 L100.20 388.50" stroke="#ff00ff" stroke-width="1" fill="none" />
<path d="M174.20 378.00 L174.20 388.50" stroke="#ff00ff" stroke-width="1" fill="none" />
<path d="M100.20 378.00 L104.50 376.50" stroke="#ff00ff" stroke-width="1" fill="none" />
<path d="M174.20 378.00 L169.90 376.50" stroke="#ff00ff" stroke-width="1" fill="none" />
<path d="M99.60 391.00 L99.60 399.00 L103.50 402.30" stroke="#ff00ff" stroke-width="1" fill="none" />
<path d="M174.80 391.00 L174.80 399.00 L170.90 402.30" stroke="#ff00ff" stroke-width="1" fill="none" />
<path d="M105.60 388.10 L111.70 389.90 L122.50 391.70" stroke="#ff00ff" stroke-width="1" fill="none" />
<path d="M168.80 388.10 L162.70 389.90 L151.90 391.70" stroke="#ff00ff" stroke-width="1" fill="none" />
<path d="M128.50 390.80 L146.00 390.80" stroke="#ff00ff" stroke-width="1" fill="none" />
<path d="M125.50 375.50 L125.50 402.50" stroke="#ff00ff" stroke-width="1" fill="none" />
<path d="M127.50 375.50 L127.50 402.50" stroke="#ff00ff" stroke-width="1" fill="none" />
<path d="M147.00 375.50 L147.00 402.50" stroke="#ff00ff" stroke-width="1" fill="none" />
<path d="M149.00 375.50 L149.00 402.50" stroke="#ff00ff" stroke-width="1" fill="none" />
<path d="M103.70 374.50 L170.60 374.50 L176.00 377.80 L176.00 399.70 L171.50 403.50 L102.80 403.50 L98.40 399.70 L98.40 377.80 Z" stroke="#ffff00" stroke-width="1" fill="none" />
<path d="M126.50 374.50 L126.50 403.50" stroke="#ffff00" stroke-width="1" fill="none" />
<path d="M148.00 374.50 L148.00 403.50" stroke="#ffff00" stroke-width="1" fill="none" />
<path d="M105.20 375.00 L106.60 384.50 L105.60 386.70" stroke="#ffff00" stroke-width="1" fill="none" />
<path d="M169.20 375.00 L167.80 384.50 L168.80 386.70" stroke="#ffff00" stroke-width="1" fill="none" />
<path d="M98.40 389.90 L106.60 389.90 L107.30 393.00 L100.00 398.50 L98.80 400.00" stroke="#ffff00" stroke-width="1" fill="none" />
<path d="M176.00 389.90 L167.80 389.90 L167.10 393.00 L174.40 398.50 L175.60 400.00" stroke="#ffff00" stroke-width="1" fill="none" />
<path d="M106.60 385.20 L111.70 384.10 L116.00 384.10 L122.50 387.40 L124.20 388.80 L124.20 392.80 L107.30 393.00" stroke="#ffff00" stroke-width="1" fill="none" />
<path d="M167.80 385.20 L162.70 384.10 L158.40 384.10 L151.90 387.40 L150.20 388.80 L150.20 392.80 L167.10 393.00" stroke="#ffff00" stroke-width="1" fill="none" />
<path d="M127.90 388.80 L131.90 386.40 L137.30 384.50 L142.70 386.40 L146.60 388.80" stroke="#ffff00" stroke-width="1" fill="none" />
<path d="M127.90 392.30 L146.60 392.30" stroke="#ffff00" stroke-width="1" fill="none" />
<rect x="126" y="378" width="1" height="1" fill="#00ffff"/>
<rect x="126" y="388" width="1" height="1" fill="#00ffff"/>
<rect x="126" y="394" width="1" height="1" fill="#00ffff"/>
<rect x="148" y="389" width="1" height="1" fill="#00ffff"/>
<rect x="148" y="395" width="1" height="1" fill="#00ffff"/>
<path d="M81.00 370.60 L84.21 371.02 L87.20 372.26 L89.77 374.23 L91.74 376.80 L92.98 379.79 L93.40 383.00 L92.98 386.21 L91.74 389.20 L89.77 391.77 L87.20 393.74 L84.21 394.98 L81.00 395.40 L77.79 394.98 L74.80 393.74 L72.23 391.77 L70.26 389.20 L69.02 386.21 L68.60 383.00 L69.02 379.79 L70.26 376.80 L72.23 374.23 L74.80 372.26 L77.79 371.02 L81.00 370.60 Z" stroke="#ffff00" stroke-width="1" fill="none" />
<path d="M81.00 371.70 L83.92 372.09 L86.65 373.21 L88.99 375.01 L90.79 377.35 L91.91 380.08 L92.30 383.00 L91.91 385.92 L90.79 388.65 L88.99 390.99 L86.65 392.79 L83.92 393.91 L81.00 394.30 L78.08 393.91 L75.35 392.79 L73.01 390.99 L71.21 388.65 L70.09 385.92 L69.70 383.00 L70.09 380.08 L71.21 377.35 L73.01 375.01 L75.35 373.21 L78.08 372.09 L81.00 371.70 Z" stroke="#994c4c" stroke-width="1" fill="none" stroke-dasharray="2 1"/>
<path d="M87.66 382.16 L88.61 384.04 L88.99 386.12 L88.77 388.23 L87.96 390.18 L86.63 391.82 L84.89 393.03 L82.88 393.69 L80.77 393.75 L78.73 393.22 L76.91 392.13 L75.49 390.57 L74.56 388.67 L74.20 386.58 L74.45 384.48" stroke="#ffff00" stroke-width="1" fill="none" />
<path d="M86.97 383.30 L87.61 384.87 L87.80 386.55 L87.52 388.23 L86.81 389.76 L85.70 391.05 L84.29 391.99 L82.68 392.51 L80.98 392.57 L79.33 392.17 L77.86 391.34 L76.66 390.14 L75.83 388.67 L75.43 387.02 L75.49 385.32" stroke="#994c4c" stroke-width="1" fill="none" />
<path d="M85.10 386.40 L88.90 386.40" stroke="#994c4c" stroke-width="1" fill="none" />
<path d="M84.07 388.87 L86.76 391.56" stroke="#994c4c" stroke-width="1" fill="none" />
<path d="M81.60 389.90 L81.60 393.70" stroke="#994c4c" stroke-width="1" fill="none" />
<path d="M79.13 388.87 L76.44 391.56" stroke="#994c4c" stroke-width="1" fill="none" />
<path d="M78.10 386.40 L74.30 386.40" stroke="#994c4c" stroke-width="1" fill="none" />
<path d="M81.60 382.90 L81.60 379.10" stroke="#994c4c" stroke-width="1" fill="none" />
<path d="M84.07 383.93 L86.76 381.24" stroke="#994c4c" stroke-width="1" fill="none" />
<rect x="76" y="373" width="9" height="9" fill="#808080"/>
<rect x="81" y="374" width="2" height="6" fill="#000"/>
<path d="M74.40 380.90 L75.74 381.46 L76.30 382.80 L75.74 384.14 L74.40 384.70 L73.06 384.14 L72.50 382.80 L73.06 381.46 L74.40 380.90 Z" stroke="#808080" stroke-width="1.3" fill="none" />
<path d="M82.94 383.17 L84.83 385.06 L84.83 387.74 L82.94 389.63 L80.26 389.63 L78.37 387.74 L78.37 385.06 L80.26 383.17 L82.94 383.17 Z" stroke="#ff0000" stroke-width="1" fill="none" />
<rect x="80" y="385" width="2" height="2" fill="#994c4c"/>
<path d="M193.60 370.60 L196.81 371.02 L199.80 372.26 L202.37 374.23 L204.34 376.80 L205.58 379.79 L206.00 383.00 L205.58 386.21 L204.34 389.20 L202.37 391.77 L199.80 393.74 L196.81 394.98 L193.60 395.40 L190.39 394.98 L187.40 393.74 L184.83 391.77 L182.86 389.20 L181.62 386.21 L181.20 383.00 L181.62 379.79 L182.86 376.80 L184.83 374.23 L187.40 372.26 L190.39 371.02 L193.60 370.60 Z" stroke="#ffff00" stroke-width="1" fill="none" />
<path d="M193.60 371.70 L196.52 372.09 L199.25 373.21 L201.59 375.01 L203.39 377.35 L204.51 380.08 L204.90 383.00 L204.51 385.92 L203.39 388.65 L201.59 390.99 L199.25 392.79 L196.52 393.91 L193.60 394.30 L190.68 393.91 L187.95 392.79 L185.61 390.99 L183.81 388.65 L182.69 385.92 L182.30 383.00 L182.69 380.08 L183.81 377.35 L185.61 375.01 L187.95 373.21 L190.68 372.09 L193.60 371.70 Z" stroke="#994c4c" stroke-width="1" fill="none" stroke-dasharray="2 1"/>
<path d="M192.40 379.40 L195.16 379.95 L197.49 381.51 L199.05 383.84 L199.60 386.60 L199.05 389.36 L197.49 391.69 L195.16 393.25 L192.40 393.80 L189.64 393.25 L187.31 391.69 L185.75 389.36 L185.20 386.60 L185.75 383.84 L187.31 381.51 L189.64 379.95 L192.40 379.40 Z" stroke="#ffff00" stroke-width="1" fill="none" />
<path d="M192.40 380.50 L194.73 380.96 L196.71 382.29 L198.04 384.27 L198.50 386.60 L198.04 388.93 L196.71 390.91 L194.73 392.24 L192.40 392.70 L190.07 392.24 L188.09 390.91 L186.76 388.93 L186.30 386.60 L186.76 384.27 L188.09 382.29 L190.07 380.96 L192.40 380.50 Z" stroke="#994c4c" stroke-width="1" fill="none" />
<path d="M195.20 386.60 L199.70 386.60" stroke="#994c4c" stroke-width="1" fill="none" />
<path d="M194.38 388.58 L197.56 391.76" stroke="#994c4c" stroke-width="1" fill="none" />
<path d="M192.40 389.40 L192.40 393.90" stroke="#994c4c" stroke-width="1" fill="none" />
<path d="M190.42 388.58 L187.24 391.76" stroke="#994c4c" stroke-width="1" fill="none" />
<path d="M189.60 386.60 L185.10 386.60" stroke="#994c4c" stroke-width="1" fill="none" />
<path d="M190.42 384.62 L187.24 381.44" stroke="#994c4c" stroke-width="1" fill="none" />
<path d="M192.40 383.80 L192.40 379.30" stroke="#994c4c" stroke-width="1" fill="none" />
<path d="M194.38 384.62 L197.56 381.44" stroke="#994c4c" stroke-width="1" fill="none" />
<path d="M193.47 384.01 L194.99 385.53 L194.99 387.67 L193.47 389.19 L191.33 389.19 L189.81 387.67 L189.81 385.53 L191.33 384.01 L193.47 384.01 Z" stroke="#ff0000" stroke-width="1" fill="none" />
<rect x="191" y="385" width="2" height="2" fill="#994c4c"/>
<path d="M218.50 331.50 L235.50 331.50 L235.50 361.50 L218.50 361.50 Z" stroke="#00ffff" stroke-width="1" fill="none" />
<path d="M232.50 331.50 L232.50 361.50" stroke="#00ffff" stroke-width="1" fill="none" />
<path d="M218.50 360.50 L235.50 360.50" stroke="#808080" stroke-width="1" fill="none" />
<rect x="233" y="334" width="1" height="24" fill="#ffff00"/>
<rect x="233" y="336" width="1" height="2" fill="#808080"/><rect x="233" y="353" width="1" height="2" fill="#808080"/>
<circle cx="225.60" cy="338.60" r="3.40" stroke="#ffff00" stroke-width="1.6" fill="none" />
<circle cx="225.60" cy="338.60" r="2.00" stroke="#808080" stroke-width="1" fill="none" />
<rect x="225" y="338" width="1" height="1" fill="#000"/>
<rect x="221" y="334" width="1" height="1" fill="#ffff00"/>
<rect x="229" y="334" width="1" height="1" fill="#ffff00"/>
<rect x="221" y="342" width="1" height="1" fill="#ffff00"/>
<rect x="229" y="342" width="1" height="1" fill="#ffff00"/>
<circle cx="225.60" cy="353.80" r="3.40" stroke="#ffff00" stroke-width="1.6" fill="none" />
<circle cx="225.60" cy="353.80" r="2.00" stroke="#808080" stroke-width="1" fill="none" />
<rect x="225" y="353" width="1" height="1" fill="#000"/>
<rect x="221" y="349" width="1" height="1" fill="#ffff00"/>
<rect x="229" y="349" width="1" height="1" fill="#ffff00"/>
<rect x="221" y="357" width="1" height="1" fill="#ffff00"/>
<rect x="229" y="357" width="1" height="1" fill="#ffff00"/>
<path d="M218.50 374.50 L237.50 374.50 L237.50 403.50 L218.50 403.50 Z" stroke="#ffff00" stroke-width="1" fill="none" />
<path d="M222.50 375.50 L222.50 402.50" stroke="#ffff00" stroke-width="1" fill="none" />
<path d="M222.5 375.5 L234.5 375.5 Q236.5 375.5 236.5 377.5 L236.5 386.5 Q236.5 388.5 234.5 388.5 L222.5 388.5" stroke="#ffff00" fill="none"/>
<path d="M222.5 390.5 L234.5 390.5 Q236.5 390.5 236.5 392.5 L236.5 400.5 Q236.5 402.5 234.5 402.5 L222.5 402.5" stroke="#ffff00" fill="none"/>
<path d="M226 380 L226 384 L228 384 L229.3 382 L228 380 Z" fill="#ffff00" stroke="none"/>
<path d="M226 394 L226 398 L228 398 L229.3 396 L228 394 Z" fill="#ffff00" stroke="none"/>
<path d="M219.50 386.50 L221.50 385.50 L222.50 387.50 L225.50 390.50" stroke="#ffff00" stroke-width="1.5" fill="none" />
<path d="M219.50 391.50 L222.50 390.50 L224.50 388.50" stroke="#ffff00" stroke-width="1.2" fill="none" />
<path d="M97.9 24.1 L97.8 26.6 M100.7 20.3 L101.0 21.0 L100.9 21.8 L100.5 22.5 L96.6 22.5 L96.2 21.8 L96.2 19.1 M97.0 32.7 L101.1 35.7 L101.6 35.5 M97.8 26.6 L92.4 26.6 M97.8 26.6 L100.8 26.5 M97.8 26.6 L97.8 30.8 M93.6 32.7 L93.1 32.7 L89.5 35.5 L88.5 35.5 M88.7 30.9 L92.4 30.9 M94.2 20.3 L94.5 20.9 M89.7 19.1 L89.7 15.8 L94.2 15.9 L94.1 19.1 L89.7 19.1 M89.7 19.1 L89.7 21.7 L90.2 22.5 L94.0 22.5 L94.3 22.1 L94.5 20.9 M92.4 26.6 L92.5 24.0 M92.4 26.6 L89.5 26.5 M92.4 26.6 L92.4 30.9 M96.2 19.1 L96.2 15.8 L100.6 15.9 L100.4 19.1 L96.2 19.1 M92.4 30.9 L97.8 30.8 M97.8 30.8 L101.5 30.8 M103.4 17.0 L106.8 17.0 L108.7 18.4 L108.7 22.4 L106.8 23.8 L104.5 23.8 M106.8 23.8 L108.7 25.1 L108.7 31.1 L106.8 32.9 L103.4 32.9 M113.1 17.0 L113.1 19.7 L112.0 21.1 L111.0 29.4 L116.3 29.4 M114.2 26.1 L114.2 32.9 M125.4 15.3 L125.4 22.4 L124.4 23.8 L124.4 34.6 L125.6 35.4 L130.1 35.4 L130.1 29.4 M119.3 27.5 L120.7 27.5 L121.8 25.9 L128.4 25.9 L129.4 24.2 L131.8 24.2 M137.4 18.3 L137.4 20.4 L136.2 21.4 L136.2 24.9 L134.1 28.3 M140.3 15.3 L140.3 34.6 M138.3 23.5 L141.7 23.5 L142.4 22.4 L144.9 22.4 M136.2 29.2 L140.3 29.2 L141.0 28.3 L144.9 28.3 M134.1 35.4 L139.7 35.4 L140.3 34.4 L146.9 34.4 M154.6 15.3 L152.5 18.3 L149.4 23.8 M152.5 19.3 L155.6 19.3 L156.3 18.3 L160.8 18.3 M152.5 22.4 L154.6 22.4 L155.2 21.4 L158.7 21.4 M150.0 25.6 L153.9 25.6 L154.6 24.5 L158.0 24.5 L158.0 29.4 L159.4 30.8 L159.8 33.9 L161.5 36.7 L161.5 31.1" stroke="#00ff00" stroke-width="1" fill="none" stroke-linecap="butt" stroke-linejoin="round"/>
<path d="M307.7 20.3 L306.3 22.2 L303.2 28.5 M306.3 23.3 L312.9 23.3 M302.2 30.6 L307.7 30.6 L308.4 29.2 L315.0 29.2 M308.5 23.3 L308.5 40.6 M323.7 20.3 L321.9 23.3 M318.5 23.3 L318.5 39.6 M318.5 25.0 L328.5 25.0 M328.5 23.3 L328.5 36.5 L327.5 40.6 L325.4 37.5 M321.6 28.5 L321.6 36.8 M321.6 29.2 L325.7 29.2 L325.7 34.7 L321.6 34.7 M334.6 22.3 L332.5 24.8 L332.5 27.2 L334.6 29.6 L337.0 27.2 L337.0 24.8 L334.6 22.3 M334.6 29.6 L332.1 32.4 L332.1 35.8 L334.6 38.5 L337.4 35.8 L337.4 32.4 L334.6 29.6 M342.0 22.3 L340.0 24.8 L340.0 27.2 L342.0 29.6 L344.4 27.2 L344.4 24.8 L342.0 22.3 M342.0 29.6 L339.6 32.4 L339.6 35.8 L342.0 38.5 L344.8 35.8 L344.8 32.4 L342.0 29.6 M349.0 24.7 L352.1 24.7 L352.7 23.3 L357.6 23.3 M349.0 30.6 L352.1 30.6 L352.7 29.2 L357.6 29.2 M346.9 37.5 L359.7 37.5 M363.3 22.6 L366.4 22.6 L364.7 27.8 L366.4 29.9 L364.7 36.1 L362.6 39.6 M363.3 32.3 L372.6 39.6 L374.7 39.6 M372.6 39.6 L372.6 40.6 M373.7 20.3 L369.9 23.3 M371.6 23.3 L371.6 32.6 M371.6 26.4 L374.0 26.4 M369.2 23.3 L369.2 33.3 M368.8 32.6 L374.7 32.6 M382.4 19.1 L381.3 22.2 L378.5 28.5 M381.3 23.3 L388.6 23.3 M379.9 27.4 L388.6 27.4 M379.9 27.4 L379.9 32.6 M377.2 33.3 L382.4 33.3 L383.0 32.5 L390.0 32.5 M384.4 23.3 L384.4 40.6" stroke="#00ff00" stroke-width="1" fill="none" stroke-linecap="butt" stroke-linejoin="round"/>
<path d="M448.2 31.5 L454.1 31.5 M451.3 23.2 L451.3 36.4 M448.2 39.5 L454.1 35.3 M457.4 23.2 L457.4 43.7 M454.8 27.4 L454.8 38.1 M459.6 27.4 L459.6 37.8 M454.8 27.7 L459.6 27.7 M454.8 32.2 L459.6 32.2 M454.8 36.7 L459.6 36.7 M462.9 27.9 L465.2 25.2 L465.2 41.0 M473.7 24.8 L471.2 27.9 L469.7 31.6 L469.7 38.3 L472.3 41.0 L474.8 38.9 L474.8 33.4 L472.3 31.3 L469.7 33.9 M477.7 26.7 L482.3 26.7 L483.0 25.3 L488.7 25.3 M482.3 26.7 L482.3 40.3 M478.9 32.9 L486.2 32.9 M486.2 30.5 L486.2 39.5 M476.8 40.5 L483.4 40.5 L484.1 39.5 L490.4 39.5 M494.4 23.2 L491.3 29.4 L494.4 30.5 L491.3 35.3 L495.5 34.3 M491.3 40.5 L495.5 37.1 M498.6 23.2 L496.9 26.7 M497.2 26.7 L501.7 26.7 L501.0 29.1 M497.6 29.4 L497.6 35.3 L501.4 35.3 L501.4 29.4 L497.6 29.4 M499.6 29.4 L499.6 35.3 M496.2 35.7 L496.2 41.6 L497.6 42.6 L503.8 42.6 L503.8 40.9 L502.8 38.5 M512.5 22.3 L505.5 33.6 M511.8 24.2 L515.9 31.5 L518.7 32.6 M508.6 30.5 L515.6 30.5 M507.6 31.9 L507.6 39.5 M507.6 34.0 L510.7 34.0 L510.7 38.8 L507.6 38.8 M512.5 31.5 L512.5 43.7 M512.5 33.6 L515.9 33.6 L515.9 38.8 L514.2 40.2" stroke="#00ff00" stroke-width="1" fill="none" stroke-linecap="butt" stroke-linejoin="round"/>
<path d="M596.0 45.2 L602.2 45.2 L602.9 44.3 L609.4 44.3 M620.0 52.0 L617.7 50.3 M620.0 52.0 L620.8 52.0 M620.0 52.0 L619.7 52.6 L618.9 53.2 L616.2 54.3 M613.5 42.3 L613.6 41.5 M613.5 42.3 L613.0 43.0 L611.5 48.7 L611.5 49.7 M613.5 42.3 L613.6 42.6 L613.6 54.4 M616.1 47.2 L618.6 47.2 M620.8 52.0 L621.9 49.7 L622.4 47.2 M620.8 52.0 L623.6 54.1 L624.2 54.0 M617.3 35.3 L618.1 37.7 M619.1 47.1 L619.5 45.1 M619.1 47.1 L618.6 47.2 M619.1 47.1 L622.4 47.2 M620.2 39.5 L620.3 34.5 M620.2 39.5 L620.3 43.9 M622.4 47.2 L624.3 47.1 M618.6 47.2 L617.7 50.3 M615.3 38.9 L613.6 39.0 M623.3 35.0 L622.2 37.8 M613.6 39.0 L613.7 34.4 M615.8 54.0 L616.2 54.3 M616.4 43.6 L615.8 43.5 M616.4 43.6 L618.0 42.1 L619.9 39.5 M616.4 39.2 L619.6 39.1 L619.9 39.5 M617.1 50.6 L617.7 50.3 M624.6 43.4 L624.2 43.6 L623.0 42.7 L620.6 39.5 M611.7 39.0 L613.6 39.0 M624.1 39.1 L620.9 39.1 L620.6 39.5 M613.6 39.0 L613.6 41.5 M615.2 45.5 L615.2 44.5 L614.5 42.4 L613.6 41.5 M629.9 49.5 L630.3 49.2 M627.2 54.5 L627.3 53.4 M632.0 37.4 L631.5 39.0 M631.9 46.4 L634.8 47.8 M630.3 49.2 L635.7 51.0 M628.2 45.6 L628.7 45.8 M638.9 53.4 L638.9 35.6 L627.3 35.7 L627.3 53.4 M638.9 53.4 L627.3 53.4 M638.9 53.4 L638.9 54.5 M635.9 39.2 L631.5 39.0 M635.9 39.2 L636.5 39.0 M635.9 39.2 L635.7 40.3 L633.6 43.2 M630.8 40.2 L630.9 39.6 L631.5 39.0 M630.8 40.2 L630.4 40.3 L629.2 41.9 L628.6 41.9 M630.8 40.2 L632.9 43.2 M637.4 45.6 L634.8 44.4 L633.8 43.6 L633.6 43.2 M632.9 43.2 L633.6 43.2 M632.9 43.2 L632.7 43.6 L631.3 44.6 L628.7 45.8 M642.2 38.3 L647.0 38.3 L647.6 37.0 L653.5 37.0 M647.0 38.3 L647.0 50.9 M643.4 44.0 L651.0 44.0 M651.0 41.9 L651.0 50.2 M641.2 51.2 L648.1 51.2 L648.9 50.2 L655.3 50.2" stroke="#0000ff" stroke-width="1" fill="none" stroke-linecap="butt" stroke-linejoin="round"/>
<path d="M91.4 462.2 L91.4 478.9 L90.2 480.6 M91.4 462.6 L97.4 462.6 L97.4 469.2 L92.9 469.2 M92.6 466.4 L95.7 466.4 M98.8 472.3 L90.2 480.6 M92.9 470.9 L98.1 480.3 L100.9 480.3 M105.0 464.0 L105.0 462.8 L110.2 462.8 L107.1 478.6 M117.5 464.7 L116.2 462.8 L113.9 462.8 L112.4 465.0 L112.4 469.4 L113.9 471.6 L116.0 471.6 L117.5 469.1 M117.5 462.8 L117.5 472.3 L116.2 477.0 L114.7 478.6 M120.9 465.4 L130.1 465.4 M119.0 476.5 L131.7 476.5 M135.1 464.6 L139.7 464.6 L140.4 463.3 L146.1 463.3 M139.7 464.6 L139.7 477.8 M136.3 470.6 L143.6 470.6 M143.6 468.3 L143.6 477.1 M134.2 478.1 L140.8 478.1 L141.6 477.1 L147.9 477.1 M156.4 460.3 L155.3 462.9 M152.4 463.3 L152.4 472.6 M152.4 463.5 L159.8 463.3 L159.8 470.9 L152.4 470.9 M156.0 463.3 L156.0 470.9 L154.6 473.7 L149.1 480.6 M152.9 469.2 L156.0 469.2 L156.7 467.4 L159.8 467.4 M156.7 470.9 L156.7 479.9 L157.4 480.6 L161.9 480.6 L161.9 475.4 M158.5 473.3 L160.5 476.1 L159.8 478.2 M160.5 476.1 L161.9 475.4" stroke="#00ff00" stroke-width="1" fill="none" stroke-linecap="butt" stroke-linejoin="round"/>
<path d="M316.3 463.3 L319.4 463.3 L320.5 462.4 L323.6 462.4 L324.6 461.2 L322.9 463.3 L320.8 466.4 L320.5 467.4 M320.5 464.3 L320.5 480.3 L317.4 476.5 M313.2 470.6 L316.7 470.6 L317.4 469.5 L322.6 469.5 L323.3 468.5 L326.7 468.5 M334.4 461.2 L334.4 479.6 M330.5 469.2 L330.5 479.6 M339.6 469.2 L339.6 480.6 M329.2 479.6 L334.0 479.6 L334.7 478.5 L339.6 478.5 M347.8 464.7 L346.5 462.8 L344.1 462.8 L342.5 465.0 L342.5 469.4 L344.1 471.6 L346.2 471.6 L347.8 469.1 M347.8 462.8 L347.8 472.3 L346.5 477.0 L344.9 478.6 M350.0 464.0 L350.0 462.8 L355.2 462.8 L352.1 478.6 M359.9 462.2 L359.9 479.5 M359.9 464.3 L363.7 464.3 L364.4 463.3 L368.9 463.3 M368.9 462.2 L368.9 478.1 M359.9 477.5 L363.7 477.5 L364.4 476.5 L368.9 476.5 M363.0 464.3 L362.7 469.9 L360.6 474.4 M365.1 463.6 L365.1 472.0 L368.9 472.0 M376.9 460.3 L371.7 470.9 M374.5 466.4 L374.5 479.9 L375.9 481.3 M379.3 468.5 L385.2 468.5 M380.7 460.3 L380.7 472.0 L376.2 479.9 M380.7 472.0 L383.8 479.9 L385.2 480.3 M381.4 462.6 L383.8 466.4 M391.8 460.3 L386.6 470.9 M389.7 465.0 L389.7 480.6 M394.9 461.2 L395.3 465.0 M390.8 466.4 L400.1 466.4 M392.8 469.5 L396.0 475.8 M398.0 468.5 L396.0 476.8 M390.4 478.2 L394.9 478.2 L395.6 477.2 L400.1 477.2" stroke="#00ff00" stroke-width="1" fill="none" stroke-linecap="butt" stroke-linejoin="round"/>
<path d="M532.2 460.6 L531.5 464.4 M523.7 463.4 L526.7 463.4 M531.5 464.4 L530.2 468.1 M531.5 464.4 L536.6 464.4 M523.5 477.4 L526.7 477.4 M526.7 463.4 L526.8 460.5 M526.7 463.4 L529.7 463.3 M526.7 463.4 L526.7 466.9 M526.7 477.4 L526.7 473.9 M526.7 477.4 L529.8 477.3 M526.7 477.4 L526.7 482.0 M534.8 469.9 L531.0 469.8 M534.8 469.9 L535.7 469.5 M534.8 469.9 L534.7 470.9 L531.0 478.9 L530.9 480.8 L531.7 481.5 L536.2 481.4 L536.6 478.6 L536.4 477.5 M529.2 470.4 L529.1 466.9 L526.7 466.9 M529.2 470.4 L524.4 470.4 M529.2 470.4 L529.1 473.8 L526.7 473.9 M524.4 470.4 L524.4 466.9 L526.7 466.9 M524.4 470.4 L524.4 473.8 L526.7 473.9 M530.2 468.1 L529.7 468.2 M543.2 462.8 L539.0 462.8 L538.5 470.1 L539.1 469.0 L540.3 468.2 L541.8 468.2 L543.0 469.6 L543.6 472.2 L543.6 475.4 L543.0 477.9 L541.8 479.0 L540.2 479.0 L539.0 478.0 L538.4 476.1 M545.9 466.4 L546.5 463.8 L547.7 462.8 L549.3 462.8 L550.5 463.8 L551.1 466.4 L551.1 469.0 L550.3 471.7 L545.9 479.0 L551.1 479.0 M559.6 461.2 L559.6 467.1 L558.2 469.9 L553.3 480.6 M554.0 469.5 L556.8 469.5 L557.8 467.8 L562.7 467.8 M562.7 466.4 L562.7 472.0 L561.3 473.3 L561.3 478.9 L562.3 479.6 L566.9 479.6 L566.9 475.4 M573.3 462.2 L575.4 466.4 M568.1 469.5 L571.6 469.5 L572.3 468.5 L577.8 468.5 L578.5 467.1 L582.0 467.1 M573.7 471.6 L568.1 480.6 M576.1 471.6 L580.6 479.9 M583.7 482.1 L584.4 481.1 L585.5 478.0 L586.0 477.7 M592.4 460.6 L591.7 464.1 M596.4 476.2 L595.0 474.7 L593.4 472.4 M588.1 478.1 L588.4 481.8 M594.4 477.7 L595.0 478.6 L596.3 481.8 M585.9 460.5 L586.4 460.2 M585.9 460.5 L585.6 462.5 M591.4 465.6 L591.7 464.1 M591.4 465.6 L590.1 467.6 M591.4 465.6 L592.7 470.4 L593.4 471.8 M584.2 475.6 L589.1 475.6 L589.2 470.9 M585.6 462.5 L585.3 462.7 L584.0 466.2 M585.6 462.5 L588.8 462.7 M593.4 471.8 L593.8 471.4 L594.7 468.7 L595.4 464.2 M589.2 470.9 L589.2 466.8 L587.9 466.7 M589.2 470.9 L584.5 470.9 M596.4 464.1 L595.4 464.2 M584.0 466.2 L583.5 466.3 M584.0 466.2 L584.3 466.7 L587.9 466.7 M591.1 477.9 L591.5 478.3 L592.2 481.7 M590.4 476.1 L591.9 474.6 L593.4 472.4 M595.4 464.2 L591.7 464.1 M588.8 462.7 L587.9 466.7" stroke="#00ff00" stroke-width="1" fill="none" stroke-linecap="butt" stroke-linejoin="round"/>
<path d="M24.2 203.1 L27.6 203.0 M18.8 215.3 L19.5 215.5 L19.7 215.2 M23.2 210.2 L29.2 210.0 M23.2 210.2 L19.8 210.2 M23.2 210.2 L23.3 211.1 L24.0 212.2 L25.0 213.4 L25.8 213.6 M21.1 200.7 L18.1 200.8 M21.1 203.0 L17.8 203.2 M28.4 211.5 L27.8 211.5 L26.0 213.1 L25.8 213.6 M24.1 200.8 L27.2 200.7 M28.0 195.6 L22.6 195.7 M29.5 215.1 L29.0 215.4 L27.8 215.1 L26.1 214.2 L25.8 213.6 M22.6 203.7 L22.6 198.4 M28.5 201.4 L28.5 198.4 L22.6 198.4 M28.6 205.4 L17.7 205.4 L17.6 210.1 M22.6 195.7 L17.4 195.7 M22.6 195.7 L22.6 198.4 M17.6 210.1 L19.8 210.2 M17.6 210.1 L17.1 213.6 L16.3 215.6 L16.1 215.7 M27.7 207.5 L19.1 207.6 M19.7 215.2 L19.8 210.2 M19.7 215.2 L20.7 215.3 L23.9 214.4 M16.7 201.4 L16.8 198.4 L22.6 198.4" stroke="#00ff00" stroke-width="1" fill="none" stroke-linecap="butt" stroke-linejoin="round"/>
<path d="M15.9 230.4 L16.5 227.8 L17.7 226.8 L19.3 226.8 L20.5 227.8 L21.2 230.4 L21.2 232.9 L20.4 235.7 L15.9 242.9 L21.2 242.9 M28.4 226.8 L24.1 226.8 L23.6 234.1 L24.3 232.9 L25.5 232.1 L26.9 232.1 L28.1 233.6 L28.8 236.2 L28.8 239.4 L28.1 241.8 L26.9 242.9 L25.3 242.9 L24.1 241.9 L23.5 240.0" stroke="#00ff00" stroke-width="1" fill="none" stroke-linecap="butt" stroke-linejoin="round"/>
<path d="M20.9 256.3 L23.0 260.4 M15.6 263.5 L19.2 263.5 L19.9 262.5 L25.5 262.5 L26.2 261.1 L29.7 261.1 M21.3 265.6 L15.6 274.5 M23.7 265.6 L28.3 273.8" stroke="#00ff00" stroke-width="1" fill="none" stroke-linecap="butt" stroke-linejoin="round"/>
<path d="M19.1 287.4 L22.9 287.4 L23.6 286.4 L27.7 286.4 M17.2 293.5 L19.8 293.5 L20.5 292.5 L25.3 292.5 L26.0 291.4 L28.8 291.4 M23.6 286.4 L23.6 293.9 L22.2 296.0 L16.3 304.6 M24.3 294.6 L26.7 301.5 L27.7 303.6 L29.8 303.6" stroke="#00ff00" stroke-width="1" fill="none" stroke-linecap="butt" stroke-linejoin="round"/>
<path d="M17.3 315.2 L17.3 334.6 M17.3 317.3 L21.5 317.3 L22.2 316.4 L27.7 316.4 M17.3 333.4 L21.5 333.4 L22.2 332.3 L27.7 332.3 M21.2 318.3 L20.5 320.4 L19.4 323.9 M20.8 322.5 L23.2 322.5 L23.9 321.4 L26.7 321.4 M19.4 326.5 L22.9 326.5 L23.6 325.4 L27.7 325.4 M22.9 326.5 L19.1 330.5 M23.2 327.0 L26.7 332.2" stroke="#00ff00" stroke-width="1" fill="none" stroke-linecap="butt" stroke-linejoin="round"/>
<path d="M664.5 187.2 L664.5 189.6 L665.5 191.0 M669.7 187.2 L669.7 189.3 L668.3 191.4 M664.5 191.4 L664.5 199.3 M664.5 193.4 L668.3 193.4 L669.7 191.7 L669.7 196.6 L667.6 198.3 L664.8 198.3 M665.5 198.6 L665.5 202.1 L664.1 204.9 L660.3 207.7 M667.6 198.3 L667.6 206.3 L673.8 206.3 L673.8 201.1" stroke="#00ff00" stroke-width="1" fill="none" stroke-linecap="butt" stroke-linejoin="round"/>
<path d="M664.6 219.2 L662.1 222.3 L660.5 226.0 L660.5 232.6 L663.1 235.3 L665.8 233.2 L665.8 227.8 L663.1 225.7 L660.5 228.2 M668.6 222.3 L671.0 219.6 L671.0 235.3" stroke="#00ff00" stroke-width="1" fill="none" stroke-linecap="butt" stroke-linejoin="round"/>
<path d="M660.3 258.4 L666.5 258.4 L667.3 257.5 L673.8 257.5" stroke="#00ff00" stroke-width="1" fill="none" stroke-linecap="butt" stroke-linejoin="round"/>
<path d="M663.4 276.3 L664.5 280.3 M661.3 283.4 L665.5 282.4 L664.1 286.6 L661.3 290.7 M664.5 286.6 L664.5 296.6 M667.6 277.2 L667.6 284.5 M667.6 278.2 L672.4 278.2 M672.4 277.2 L672.4 282.4 M667.6 282.4 L672.8 282.4 M666.5 285.5 L666.5 296.6 M666.5 285.9 L673.8 285.9 M673.8 285.2 L673.8 290.7 L672.4 292.1 L672.4 297.7 M670.0 282.4 L670.0 290.7 L667.2 294.2 M670.0 290.7 L672.1 294.9" stroke="#00ff00" stroke-width="1" fill="none" stroke-linecap="butt" stroke-linejoin="round"/>
<path d="M666.2 307.2 L667.9 308.9 M663.4 309.3 L663.4 311.0 L662.4 312.4 L662.4 314.5 L671.7 314.5 M663.4 310.3 L667.9 310.3 L668.6 309.3 L673.8 309.3 L672.8 310.3 L671.7 313.1 L665.5 313.1 M663.4 316.6 L671.7 315.7 M660.3 319.3 L663.8 319.3 L664.5 318.4 L670.4 318.4 L671.0 317.4 L673.8 317.4 M667.6 310.3 L667.6 321.8 M664.5 321.8 L664.5 327.7 M664.5 322.5 L670.4 321.8 L670.4 324.5 L667.6 324.5 L666.9 325.6 L664.8 325.6" stroke="#00ff00" stroke-width="1" fill="none" stroke-linecap="butt" stroke-linejoin="round"/>
<path d="M127.5 114.5 L118.5 131.4 M126.9 117.2 L133.1 129.8 L136.7 130.5 M123.4 126.5 L123.4 140.2 L125.9 142.0 L133.4 142.0 L133.4 136.3 M123.4 128.3 L126.6 128.3 L129.1 126.9 L129.1 132.3 L128.0 137.3 L127.3 137.3 L126.6 134.5" stroke="#00ff00" stroke-width="1" fill="none" stroke-linecap="butt" stroke-linejoin="round"/>
<path d="M149.3 114.5 L150.7 117.2 L156.8 117.2 M143.5 118.6 L149.3 118.6 M143.5 115.2 L143.5 129.4 L139.3 141.3 M149.3 118.6 L145.7 130.9 L154.6 130.7 M145.3 123.5 L156.8 123.5 M143.1 135.4 L157.7 135.4 M150.5 126.2 L150.5 142.7" stroke="#00ff00" stroke-width="1" fill="none" stroke-linecap="butt" stroke-linejoin="round"/>
<path d="M227.4 81.2 L227.4 87.4 M227.4 84.5 L231.7 84.5 M227.7 86.3 L222.3 93.5 M225.2 88.8 L228.1 90.6 M230.6 89.5 L222.3 97.4 M225.6 91.3 L227.7 92.7 M232.4 87.0 L236.7 84.5 L233.5 89.9 M232.4 87.0 L237.8 93.5 M233.5 89.9 L221.6 101.7 M231.3 93.5 L237.1 99.2 L239.6 99.2 M230.6 95.3 L231.3 97.1 M228.1 98.9 L228.1 108.9 L226.3 111.5 M228.1 98.9 L234.2 99.6 L234.2 103.2 L228.1 103.2 M228.1 101.0 L232.7 101.0 M236.7 104.3 L228.8 109.7 M231.7 106.4 L237.8 111.8" stroke="#00ff00" stroke-width="1" fill="none" stroke-linecap="butt" stroke-linejoin="round"/>
<path d="M248.6 83.0 L248.6 87.0 L247.5 88.1 L244.3 111.5 M248.9 85.2 L254.0 85.2 L254.3 84.5 L260.8 84.5 M249.3 92.4 L255.4 92.4 L255.8 91.5 L260.8 91.5 M255.4 91.7 L255.4 111.8 L252.5 108.2" stroke="#00ff00" stroke-width="1" fill="none" stroke-linecap="butt" stroke-linejoin="round"/>
<path d="M110.4 214.5 L102.3 233.4 M109.5 216.8 L118.1 231.2 L119.6 231.4 M106.3 227.5 L113.5 227.5 M102.5 233.7 L109.5 234.3 L116.8 233.4 M109.5 234.5 L104.3 243.1 L108.8 241.7 L114.9 241.1 M112.4 236.3 L115.6 242.7" stroke="#00ff00" stroke-width="1" fill="none" stroke-linecap="butt" stroke-linejoin="round"/>
<path d="M130.4 214.3 L132.5 217.6 M126.4 218.3 L126.4 220.8 L125.3 221.5 L125.3 224.7 M126.4 220.8 L130.4 220.8 L133.3 219.4 L140.4 219.4 M140.4 218.3 L139.4 220.8 L138.3 223.7 M130.4 220.8 L125.3 229.4 M128.9 225.5 L134.0 225.0 M136.8 222.2 L123.2 236.6 M129.7 228.0 L140.4 234.5 M129.3 234.8 L129.3 243.5 M129.3 234.8 L135.4 234.1 L135.4 240.2 L129.7 241.3" stroke="#00ff00" stroke-width="1" fill="none" stroke-linecap="butt" stroke-linejoin="round"/>
<path d="M149.3 215.2 L149.3 219.4 L148.4 220.8 L148.4 228.7 L147.3 229.4 L147.3 235.5 L146.2 236.6 L146.2 240.9 L145.3 241.7 L145.3 243.7 M150.2 217.4 L151.6 217.4 L152.3 216.5 L157.7 216.5 L158.5 215.4 L161.7 215.4 M150.2 224.6 L155.9 224.6 L156.7 223.5 L161.7 223.5 M156.5 224.0 L156.5 242.4 L152.3 238.4" stroke="#00ff00" stroke-width="1" fill="none" stroke-linecap="butt" stroke-linejoin="round"/>
<path d="M240.4 294.5 L240.4 313.0 L237.3 321.3 M240.9 297.4 L247.0 297.4 L247.7 296.5 L254.6 296.5 M242.4 301.4 L245.6 301.4 L246.3 300.4 L249.5 300.4 M243.8 303.3 L243.8 311.2 M243.8 305.5 L248.5 305.5 M248.5 304.4 L248.5 310.9 M243.8 310.9 L249.5 310.5 M246.3 311.6 L245.6 316.6 M250.5 311.2 L250.5 313.4 M240.2 319.5 L248.5 316.5 M250.6 305.3 L253.1 305.3 L253.9 304.4 L256.7 304.4 M253.9 296.5 L253.9 322.4 L250.3 317.3 M249.5 308.3 L249.5 310.9" stroke="#00ff00" stroke-width="1" fill="none" stroke-linecap="butt" stroke-linejoin="round"/>
<path d="M268.3 294.5 L270.1 297.2 L274.7 297.2 L274.4 300.1 L274.4 303.3 L269.7 303.3 L268.3 304.4 L263.9 304.4 M264.7 298.6 L268.3 298.6 L270.1 297.2 M264.4 296.5 L264.4 300.8 L263.6 301.5 L263.6 308.7 L262.5 309.8 L262.5 313.4 L261.4 314.5 L259.4 320.2 M268.3 305.5 L268.6 308.0 M263.6 309.4 L266.5 309.4 L268.6 308.5 L272.6 308.5 L273.3 307.5 L276.5 307.5 M268.3 308.0 L267.5 312.3 L261.4 322.4 M267.5 312.3 L273.3 313.0 L272.9 315.2 L271.5 320.9 L270.4 322.4 L268.3 319.1" stroke="#00ff00" stroke-width="1" fill="none" stroke-linecap="butt" stroke-linejoin="round"/>
<path d="M493.3 387.4 L496.0 387.4 L496.7 386.5 L501.7 386.5 L502.5 385.4 L505.6 385.4 M505.6 384.5 L505.6 388.3 L504.6 389.4 L504.6 397.3 L503.5 398.3 L503.5 402.3 L501.4 398.6 M498.5 386.5 L498.5 408.4 M491.3 409.5 L495.6 409.5 L496.4 408.4 L504.6 408.4 L505.3 407.5 L509.7 407.5" stroke="#00ff00" stroke-width="1" fill="none" stroke-linecap="butt" stroke-linejoin="round"/>
<path d="M514.3 384.5 L516.5 388.3 M512.3 391.4 L514.7 396.4 M512.2 407.3 L514.3 409.5 L515.4 406.6 L515.8 401.6 L516.5 396.5 L517.6 392.9 M521.5 384.5 L517.2 391.5 M524.4 384.5 L527.6 391.5 M522.5 389.4 L522.5 393.3 L518.7 398.7 M522.5 393.3 L526.6 399.4 M527.3 401.2 L529.4 400.5 M519.4 398.7 L519.4 411.7 M519.4 401.2 L525.8 401.2 M525.8 400.1 L525.8 408.1 L522.3 408.1 L520.5 409.1" stroke="#00ff00" stroke-width="1" fill="none" stroke-linecap="butt" stroke-linejoin="round"/>
<path d="M477.0 212.2 L479.4 215.4 M472.7 216.1 L472.7 218.6 L471.6 219.3 L471.6 222.5 M472.7 218.6 L477.0 218.6 L480.2 217.2 L488.0 217.2 M488.0 216.1 L486.8 218.6 L485.7 221.4 M477.0 218.6 L471.6 227.1 M475.5 223.2 L480.9 222.7 M484.1 220.0 L469.2 234.2 M476.2 225.7 L488.0 232.1 M475.9 232.5 L475.9 241.0 M475.9 232.5 L482.5 231.8 L482.5 237.8 L476.2 238.9" stroke="#00ff00" stroke-width="1" fill="none" stroke-linecap="butt" stroke-linejoin="round"/>
<path d="M495.9 212.2 L495.9 216.4 L494.9 217.9 L494.9 225.9 L493.7 226.6 L493.7 232.8 L492.6 233.9 L492.6 238.2 L491.6 239.0 L491.6 241.0 M496.8 214.5 L498.3 214.5 L499.1 213.5 L504.8 213.5 L505.6 212.4 L509.0 212.4 M496.8 221.7 L502.9 221.7 L503.7 220.6 L509.0 220.6 M503.5 221.1 L503.5 239.7 L499.1 235.7" stroke="#00ff00" stroke-width="1" fill="none" stroke-linecap="butt" stroke-linejoin="round"/>
<path d="M278.6 149.5 L277.4 151.2 L277.4 152.9 L278.6 154.7 L280.0 152.9 L280.0 151.2 L278.6 149.5 M278.6 154.7 L277.2 156.6 L277.2 159.0 L278.6 161.0 L280.2 159.0 L280.2 156.6 L278.6 154.7 M283.4 149.5 L282.2 151.2 L282.2 152.9 L283.4 154.7 L284.8 152.9 L284.8 151.2 L283.4 149.5 M283.4 154.7 L282.0 156.6 L282.0 159.0 L283.4 161.0 L285.0 159.0 L285.0 156.6 L283.4 154.7" stroke="#00ff00" stroke-width="1" fill="none" stroke-linecap="butt" stroke-linejoin="round"/>
<path d="M289.8 156.5 L291.1 154.7 L291.1 165.0 M296.6 154.5 L295.2 156.5 L294.3 158.9 L294.3 163.2 L295.8 165.0 L297.3 163.6 L297.3 160.1 L295.8 158.7 L294.3 160.4" stroke="#00ff00" stroke-width="1" fill="none" stroke-linecap="butt" stroke-linejoin="round"/>
<path d="M298.1 166.8 L296.7 168.8 L295.8 171.2 L295.8 175.5 L297.3 177.3 L298.8 175.9 L298.8 172.4 L297.3 171.0 L295.8 172.7 M300.9 168.8 L302.2 167.0 L302.2 177.3" stroke="#00ff00" stroke-width="1" fill="none" stroke-linecap="butt" stroke-linejoin="round"/>
<path d="M293.6 180.3 L291.2 180.3 L290.9 185.2 L291.2 184.5 L291.9 183.9 L292.8 183.9 L293.4 184.9 L293.8 186.7 L293.8 188.9 L293.4 190.5 L292.8 191.3 L291.9 191.3 L291.2 190.6 L290.8 189.3 M295.6 182.7 L296.0 181.0 L296.7 180.3 L297.6 180.3 L298.2 181.0 L298.6 182.7 L298.6 184.5 L298.2 186.4 L295.6 191.3 L298.6 191.3" stroke="#00ff00" stroke-width="1" fill="none" stroke-linecap="butt" stroke-linejoin="round"/>
<path d="M280.8 195.1 L280.1 193.8 L278.7 193.8 L277.8 195.3 L277.8 198.4 L278.7 200.0 L279.9 200.0 L280.8 198.2 M280.8 193.8 L280.8 200.4 L280.1 203.7 L279.2 204.8 M282.6 194.7 L282.6 193.8 L285.6 193.8 L283.8 204.8" stroke="#00ff00" stroke-width="1" fill="none" stroke-linecap="butt" stroke-linejoin="round"/>
<path d="M266.5 180.3 L266.5 179.5 L269.5 179.5 L267.7 190.0 M274.3 180.8 L273.6 179.5 L272.2 179.5 L271.3 181.0 L271.3 183.9 L272.2 185.4 L273.4 185.4 L274.3 183.7 M274.3 179.5 L274.3 185.8 L273.6 188.9 L272.7 190.0" stroke="#00ff00" stroke-width="1" fill="none" stroke-linecap="butt" stroke-linejoin="round"/>
<path d="M264.0 169.6 L264.4 167.9 L265.1 167.3 L265.9 167.3 L266.6 167.9 L267.0 169.6 L267.0 171.3 L266.6 173.1 L264.0 177.8 L267.0 177.8 M271.6 167.3 L269.2 167.3 L268.9 172.0 L269.2 171.3 L269.9 170.8 L270.8 170.8 L271.4 171.7 L271.8 173.4 L271.8 175.5 L271.4 177.1 L270.8 177.8 L269.9 177.8 L269.2 177.2 L268.8 175.9" stroke="#00ff00" stroke-width="1" fill="none" stroke-linecap="butt" stroke-linejoin="round"/>
<path d="M269.0 157.3 L270.9 157.3 L272.0 158.2 L272.0 160.9 L270.9 161.8 L269.6 161.8 M270.9 161.8 L272.0 162.7 L272.0 166.6 L270.9 167.8 L269.0 167.8 M275.0 157.3 L275.0 159.1 L274.4 160.0 L273.8 165.5 L276.8 165.5 M275.6 163.3 L275.6 167.8" stroke="#00ff00" stroke-width="1" fill="none" stroke-linecap="butt" stroke-linejoin="round"/>
<path d="M281.00 172.40 L290.82 68.50" stroke="#0000ff" stroke-width="1" fill="none" stroke-linecap="butt"/>
<path d="M281.00 172.40 L319.64 68.50" stroke="#00ff00" stroke-width="1" fill="none" stroke-linecap="butt"/>
<path d="M281.00 172.40 L344.50 83.05" stroke="#0000ff" stroke-width="1" fill="none" stroke-linecap="butt"/>
<path d="M281.00 172.40 L344.50 119.87" stroke="#0000ff" stroke-width="1" fill="none" stroke-linecap="butt"/>
<path d="M281.00 172.40 L344.50 143.33" stroke="#00ff00" stroke-width="1" fill="none" stroke-linecap="butt"/>
<path d="M281.00 172.40 L344.50 161.66" stroke="#0000ff" stroke-width="1" fill="none" stroke-linecap="butt"/>
<path d="M281.00 172.40 L344.50 178.40" stroke="#0000ff" stroke-width="1" fill="none" stroke-linecap="butt"/>
<path d="M281.00 172.40 L344.50 196.02" stroke="#00ff00" stroke-width="1" fill="none" stroke-linecap="butt"/>
<path d="M281.00 172.40 L344.50 217.53" stroke="#0000ff" stroke-width="1" fill="none" stroke-linecap="butt"/>
<path d="M281.00 172.40 L344.50 249.16" stroke="#0000ff" stroke-width="1" fill="none" stroke-linecap="butt"/>
<path d="M281.00 172.40 L344.50 311.10" stroke="#00ff00" stroke-width="1" fill="none" stroke-linecap="butt"/>
<path d="M281.00 172.40 L298.61 276.50" stroke="#0000ff" stroke-width="1" fill="none" stroke-linecap="butt"/>
<path d="M281.00 172.40 L271.16 276.50" stroke="#0000ff" stroke-width="1" fill="none" stroke-linecap="butt"/>
<path d="M281.00 172.40 L242.29 276.50" stroke="#00ff00" stroke-width="1" fill="none" stroke-linecap="butt"/>
<path d="M281.00 172.40 L217.50 261.75" stroke="#0000ff" stroke-width="1" fill="none" stroke-linecap="butt"/>
<path d="M281.00 172.40 L217.50 224.93" stroke="#0000ff" stroke-width="1" fill="none" stroke-linecap="butt"/>
<path d="M281.00 172.40 L217.50 201.47" stroke="#00ff00" stroke-width="1" fill="none" stroke-linecap="butt"/>
<path d="M281.00 172.40 L217.50 183.14" stroke="#0000ff" stroke-width="1" fill="none" stroke-linecap="butt"/>
<path d="M281.00 172.40 L217.50 166.40" stroke="#0000ff" stroke-width="1" fill="none" stroke-linecap="butt"/>
<path d="M281.00 172.40 L217.50 148.78" stroke="#00ff00" stroke-width="1" fill="none" stroke-linecap="butt"/>
<path d="M281.00 172.40 L217.50 127.27" stroke="#0000ff" stroke-width="1" fill="none" stroke-linecap="butt"/>
<path d="M281.00 172.40 L217.50 95.64" stroke="#0000ff" stroke-width="1" fill="none" stroke-linecap="butt"/>
<path d="M281.00 172.40 L233.43 68.50" stroke="#00ff00" stroke-width="1" fill="none" stroke-linecap="butt"/>
<path d="M281.00 172.40 L263.43 68.50" stroke="#0000ff" stroke-width="1" fill="none" stroke-linecap="butt"/>
</svg>
</body></html>
